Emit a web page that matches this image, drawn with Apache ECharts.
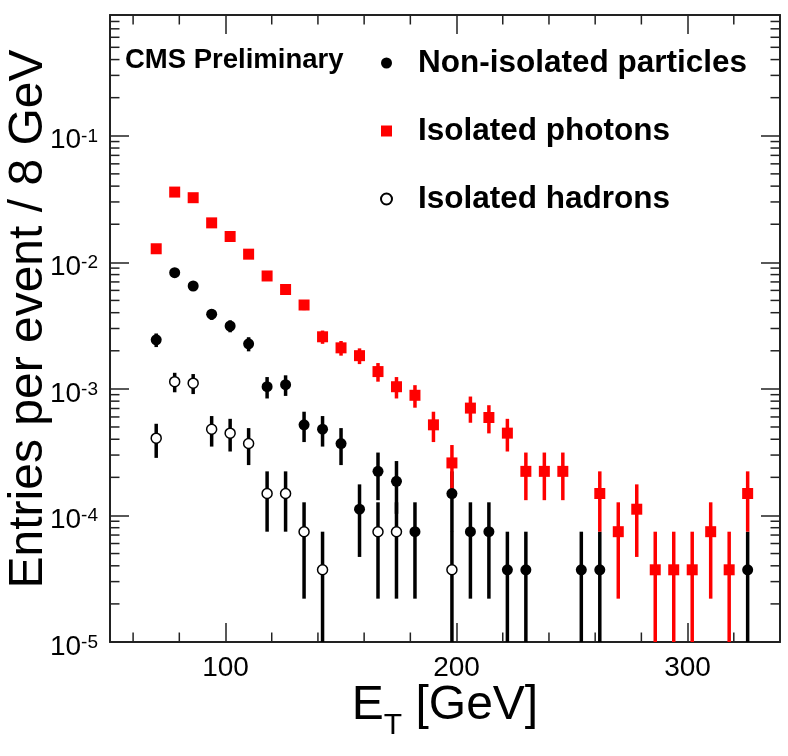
<!DOCTYPE html>
<html><head><meta charset="utf-8">
<script src="https://cdn.jsdelivr.net/npm/echarts@6/dist/echarts.min.js"></script>
<style>html,body{margin:0;padding:0;background:#fff}#c{width:788px;height:756px}</style>
</head><body><div id="c"></div>
<script>
const FONT = "'Liberation Sans', Arial, Helvetica, sans-serif";
const X_MIN = 50, X_MAX = 340, Y_MIN = 1e-5, Y_MAX = 0.9;

const xMajorTicks = [100, 200, 300];
const xMinorTicks = [60, 80, 120, 140, 160, 180, 220, 240, 260, 280, 320];
const yMinorTicks = [2e-5,3e-5,4e-5,5e-5,6e-5,7e-5,8e-5,9e-5,
  2e-4,3e-4,4e-4,5e-4,6e-4,7e-4,8e-4,9e-4,
  2e-3,3e-3,4e-3,5e-3,6e-3,7e-3,8e-3,9e-3,
  0.02,0.03,0.04,0.05,0.06,0.07,0.08,0.09,
  0.2,0.3,0.4,0.5,0.6,0.7,0.8];

// Non-isolated particles (black filled circles)
const nonIsoX  = [70,78,86,94,102,110,118,126,134,142,150,158,166,174,182,198,206,214,222,230,254,262,326];
const nonIsoY  = [0.00244,0.00828,0.0065,0.00389,0.00314,0.00227,0.00104,0.00108,0.00052,0.00048,0.00037,0.000112,0.000223,0.000186,0.0000744,0.000149,0.0000744,0.0000744,0.0000372,0.0000372,0.0000372,0.0000372,0.0000372];
const nonIsoLo = [0.00214,0.00772,0.00601,0.00351,0.00280,0.00198,0.00084,0.00088,0.00038,0.00035,0.00025,0.000047,0.000132,0.000103,0.000022,0.000074,0.000022,0.000022,0,0,0,0,0];
const nonIsoHi = [0.00274,0.00884,0.00699,0.00427,0.00348,0.00256,0.00124,0.00128,0.00066,0.00061,0.00049,0.000176,0.000314,0.000269,0.000127,0.000223,0.000127,0.000127,0.0000744,0.0000744,0.0000744,0.0000744,0.0000744];

// Isolated photons (red squares)
const photX  = [70,78,86,94,102,110,118,126,134,142,150,158,166,174,182,190,198,206,214,222,230,238,246,262,270,278,286,294,302,310,318,326];
const photY  = [0.0128,0.0359,0.0324,0.0205,0.0160,0.0116,0.0078,0.0061,0.0046,0.00258,0.00211,0.00183,0.00137,0.00104,0.00089,0.00052,0.00026,0.000705,0.000594,0.000447,0.000223,0.000223,0.000223,0.000149,0.0000744,0.000112,0.0000372,0.0000372,0.0000372,0.0000744,0.0000372,0.000149];
const photLo = [0.0121,0.0347,0.0313,0.0196,0.0152,0.0109,0.00726,0.00562,0.00419,0.00227,0.00183,0.00157,0.00114,0.00084,0.00071,0.00038,0.00016,0.00054,0.000445,0.00032,0.000132,0.000132,0.000132,0.0000744,0.000022,0.000047,0,0,0,0.000022,0,0.0000744];
const photHi = [0.0135,0.0371,0.0335,0.0214,0.0168,0.0123,0.00834,0.00658,0.00501,0.00289,0.00239,0.00209,0.00160,0.00124,0.00107,0.00066,0.00036,0.00087,0.000743,0.00058,0.000314,0.000314,0.000314,0.000223,0.000127,0.000176,0.0000744,0.0000744,0.0000744,0.000127,0.0000744,0.000223];

// Isolated hadrons (open circles)
const hadX  = [70,78,86,94,102,110,118,126,134,142,166,174,198];
const hadY  = [0.000408,0.00114,0.00111,0.00048,0.000447,0.00037,0.000149,0.000149,0.0000744,0.0000372,0.0000744,0.0000744,0.0000372];
const hadLo = [0.000285,0.00094,0.00091,0.00035,0.00032,0.00025,0.0000744,0.0000744,0.000022,0,0.000022,0.000022,0];
const hadHi = [0.00053,0.00134,0.00131,0.00061,0.00058,0.00049,0.000223,0.000223,0.000127,0.0000744,0.000127,0.000127,0.0000744];

const names = ['Non-isolated particles', 'Isolated photons', 'Isolated hadrons'];

function pts(xs, ys) { return xs.map((x, i) => [x, ys[i]]); }
function errs(xs, ys, lo, hi) { return xs.map((x, i) => [x, ys[i], lo[i], hi[i]]); }

function errRender(color) {
  return function (params, api) {
    const x = api.value(0);
    const lo = Math.max(api.value(2), Y_MIN);
    const hi = api.value(3);
    const p0 = api.coord([x, lo]);
    const p1 = api.coord([x, hi]);
    return { type: 'line', shape: { x1: p0[0], y1: p0[1], x2: p1[0], y2: p1[1] },
      style: { stroke: color, lineWidth: 3.5 } };
  };
}

const AX = '#222';
const chart = echarts.init(document.getElementById('c'), null, { renderer: 'canvas' });

const yLabelFmt = function (v) {
  const l = Math.log10(v);
  const e = Math.round(l);
  if (Math.abs(l - e) > 1e-6) return '';
  return '{b|10}{s|' + e + '}';
};

const option = {
  animation: false,
  backgroundColor: '#fff',
  textStyle: { fontFamily: FONT },
  title: {
    text: 'CMS Preliminary', left: 125, top: 47, padding: 0,
    textStyle: { fontFamily: FONT, fontSize: 27.5, fontWeight: 'bold', color: '#000', lineHeight: 27 }
  },
  legend: {
    data: names, orient: 'vertical', left: 380, top: 47, padding: 0,
    itemWidth: 11, itemHeight: 11, itemGap: 36,
    formatter: function (n) { return '{t|' + n + '}'; },
    textStyle: { fontFamily: FONT, fontSize: 31.5, fontWeight: 'bold', color: '#000',
      rich: { t: { fontFamily: FONT, fontSize: 31.5, fontWeight: 'bold', color: '#000', lineHeight: 30, padding: [0, 0, 0, 21] } } },
    selectedMode: false
  },
  grid: { left: 110, top: 15, width: 670, height: 627, containLabel: false, outerBoundsMode: 'none' },
  xAxis: [
    { type: 'value', position: 'bottom', min: X_MIN, max: X_MAX,
      axisLine: { show: true, onZero: false, lineStyle: { color: AX, width: 2 } },
      axisTick: { show: true, inside: true, length: 19, customValues: xMajorTicks, lineStyle: { color: AX, width: 1.5 } },
      axisLabel: { show: true, customValues: xMajorTicks, margin: 12, fontFamily: FONT, fontSize: 28, color: '#000' },
      splitLine: { show: false },
      name: '{a|E}{t|T}{a| [GeV]}', nameLocation: 'middle', nameGap: 40, nameMoveOverlap: false,
      nameTextStyle: { rich: {
        a: { fontFamily: FONT, fontSize: 48, color: '#000', lineHeight: 48, verticalAlign: 'top' },
        t: { fontFamily: FONT, fontSize: 30, color: '#000', lineHeight: 30, verticalAlign: 'top', padding: [29, 0, 0, 0] }
      } }
    },
    { type: 'value', position: 'top', min: X_MIN, max: X_MAX,
      axisLine: { show: true, onZero: false, lineStyle: { color: AX, width: 2 } },
      axisTick: { show: true, inside: true, length: 19, customValues: xMajorTicks, lineStyle: { color: AX, width: 1.5 } },
      axisLabel: { show: false }, splitLine: { show: false }
    }
  ],
  yAxis: [
    { type: 'log', logBase: 10, position: 'left', min: Y_MIN, max: Y_MAX,
      axisLine: { show: true, onZero: false, lineStyle: { color: AX, width: 2 } },
      axisTick: { show: true, inside: true, length: 19, lineStyle: { color: AX, width: 1.5 } },
      axisLabel: { show: true, margin: 12, formatter: yLabelFmt, rich: {
        b: { fontFamily: FONT, fontSize: 28, color: '#000', lineHeight: 38, padding: [10, 0, 0, 0] },
        s: { fontFamily: FONT, fontSize: 19, color: '#000', lineHeight: 18, verticalAlign: 'top', padding: [10, 0, 0, 0] }
      } },
      splitLine: { show: false }, minorTick: { show: false },
      name: 'Entries per event / 8 GeV', nameLocation: 'middle', nameGap: 57, nameMoveOverlap: false,
      nameTextStyle: { fontFamily: FONT, fontSize: 48, color: '#000', padding: [0, 0, 0, 19] }
    },
    { type: 'log', logBase: 10, position: 'right', min: Y_MIN, max: Y_MAX,
      axisLine: { show: true, onZero: false, lineStyle: { color: AX, width: 2 } },
      axisTick: { show: true, inside: true, length: 19, lineStyle: { color: AX, width: 1.5 } },
      axisLabel: { show: false }, splitLine: { show: false }
    }
  ],
  series: [
    { type: 'custom', silent: true, xAxisIndex: 0, yAxisIndex: 0,
      data: yMinorTicks.map(v => [X_MIN, v]),
      renderItem: function (params, api) {
        const v = api.value(1);
        const p = api.coord([X_MIN, v]);
        const q = api.coord([X_MAX, v]);
        return { type: 'group', children: [
          { type: 'line', shape: { x1: p[0], y1: p[1], x2: p[0] + 9.5, y2: p[1] }, style: { stroke: AX, lineWidth: 1.5 } },
          { type: 'line', shape: { x1: q[0] - 9.5, y1: q[1], x2: q[0], y2: q[1] }, style: { stroke: AX, lineWidth: 1.5 } }
        ] };
      } },
    { type: 'custom', silent: true, xAxisIndex: 0, yAxisIndex: 0,
      data: xMinorTicks.map(v => [v, Y_MIN]),
      renderItem: function (params, api) {
        const v = api.value(0);
        const p = api.coord([v, Y_MIN]);
        const q = api.coord([v, Y_MAX]);
        return { type: 'group', children: [
          { type: 'line', shape: { x1: p[0], y1: p[1], x2: p[0], y2: p[1] - 9.5 }, style: { stroke: AX, lineWidth: 1.5 } },
          { type: 'line', shape: { x1: q[0], y1: q[1], x2: q[0], y2: q[1] + 9.5 }, style: { stroke: AX, lineWidth: 1.5 } }
        ] };
      } },
    { type: 'custom', silent: true, data: errs(nonIsoX, nonIsoY, nonIsoLo, nonIsoHi), renderItem: errRender('#000') },
    { type: 'custom', silent: true, data: errs(hadX, hadY, hadLo, hadHi), renderItem: errRender('#000') },
    { type: 'custom', silent: true, data: errs(photX, photY, photLo, photHi), renderItem: errRender('#ff0000') },
    { name: names[0], type: 'scatter', data: pts(nonIsoX, nonIsoY), symbol: 'circle', symbolSize: 11,
      itemStyle: { color: '#000', opacity: 1 } },
    { name: names[2], type: 'scatter', data: pts(hadX, hadY), symbol: 'circle', symbolSize: 10,
      itemStyle: { color: '#fff', borderColor: '#000', borderWidth: 1.5, opacity: 1 } },
    { name: names[1], type: 'scatter', data: pts(photX, photY), symbol: 'rect', symbolSize: 11,
      itemStyle: { color: '#ff0000', opacity: 1 } }
  ]
};
chart.setOption(option);
</script>
</body></html>
